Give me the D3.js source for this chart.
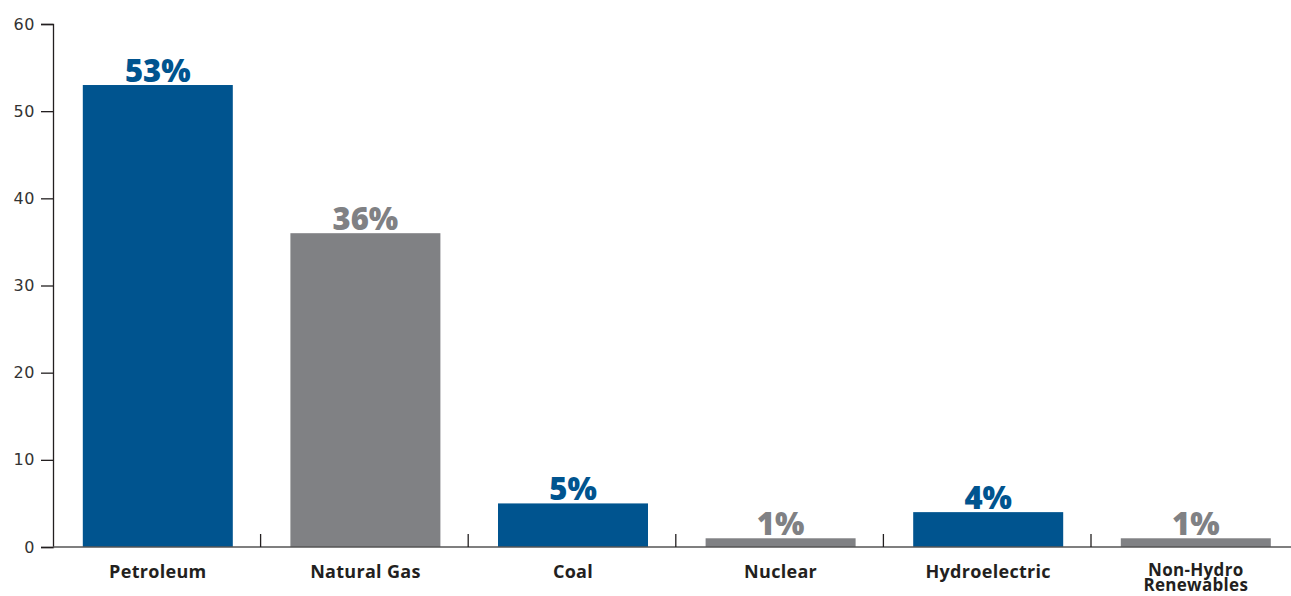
<!DOCTYPE html>
<html><head><meta charset="utf-8">
<script src="https://cdn.jsdelivr.net/npm/d3@7"></script>
<style>body{margin:0;background:#fff}svg{display:block}</style>
</head><body>
<svg id="c" width="1291" height="596"></svg>
<script>
const categories = ["Petroleum","Natural Gas","Coal","Nuclear","Hydroelectric","Non-Hydro Renewables"];
const values = [53,36,5,1,4,1];
const valueLabels = ["53%","36%","5%","1%","4%","1%"];
const barColors = ["#00548f","#808184","#00548f","#808184","#00548f","#808184"];
const yTicks = [0,10,20,30,40,50,60];

const svg = d3.select("#c");
const x0 = 53, x1 = 1298.6, yBase = 547, yTop = 24;
const x = d3.scaleBand().domain(categories).range([x0,x1]).paddingInner(0).paddingOuter(0);
const y = d3.scaleLinear().domain([0,60]).range([yBase,yTop]);
const barW = 150;

// bars
svg.selectAll("rect.bar").data(categories).enter().append("rect")
  .attr("x", d => x(d) + x.bandwidth()/2 - barW/2 + 1)
  .attr("width", barW)
  .attr("y", (d,i) => y(values[i]))
  .attr("height", (d,i) => y(0) - y(values[i]))
  .attr("fill", (d,i) => barColors[i]);

// y axis
const yAxis = svg.append("g").attr("transform",`translate(${x0},0)`)
  .call(d3.axisLeft(y).tickValues(yTicks).tickSize(12).tickPadding(6));
yAxis.select(".domain").attr("stroke","#231f20").attr("stroke-width",1.3);
yAxis.selectAll(".tick line").attr("stroke","#231f20").attr("stroke-width",1.3);
yAxis.selectAll(".tick text").attr("font-family","'DejaVu Sans', sans-serif")
  .attr("font-size",16).attr("letter-spacing","0.6").attr("fill","#333");

// x axis baseline
svg.append("line").attr("x1",x0).attr("x2",x1).attr("y1",yBase).attr("y2",yBase)
  .attr("stroke","#555").attr("stroke-width",1.6);
// boundary ticks
svg.selectAll("line.bt").data(categories.slice(1)).enter().append("line")
  .attr("x1", d => x(d)).attr("x2", d => x(d))
  .attr("y1", yBase).attr("y2", yBase - 13)
  .attr("stroke","#231f20").attr("stroke-width",1.3);

// value labels
svg.selectAll("text.val").data(categories).enter().append("text")
  .attr("x", d => x(d) + x.bandwidth()/2 + 1)
  .attr("y", (d,i) => y(values[i]) - 3)
  .attr("text-anchor","middle")
  .attr("font-family","'Open Sans', sans-serif").attr("font-weight",800)
  .attr("font-size",31)
  .attr("fill", (d,i) => barColors[i])
  .text((d,i) => valueLabels[i]);

// category labels
const cl = svg.selectAll("text.cat").data(categories).enter().append("text")
  .attr("x", d => x(d) + x.bandwidth()/2 + 1)
  .attr("y", 578)
  .attr("text-anchor","middle")
  .attr("font-family","'Open Sans', sans-serif").attr("font-weight",700)
  .attr("font-size",18).attr("letter-spacing","0.3").attr("fill","#231f20");
cl.each(function(d){
  const t = d3.select(this);
  if (d === "Non-Hydro Renewables") {
    t.attr("y",576).attr("font-size",17);
    t.append("tspan").attr("x", x(d)+x.bandwidth()/2+1).text("Non-Hydro");
    t.append("tspan").attr("x", x(d)+x.bandwidth()/2+1).attr("dy",15).text("Renewables");
  } else t.text(d);
});
</script>
</body></html>
